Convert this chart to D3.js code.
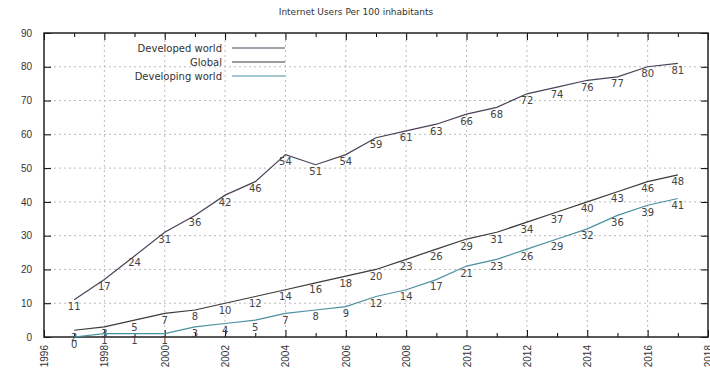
<!DOCTYPE html>
<html>
<head>
<meta charset="utf-8">
<script src="https://cdn.jsdelivr.net/npm/d3@7"></script>
<style>
  body { margin: 0; background: #fff; }
  svg { font-family: "DejaVu Sans", sans-serif; }
  .grid line { stroke: #bbb; stroke-dasharray: 2,3; }
</style>
</head>
<body>
<svg id="chart" width="710" height="372"></svg>
<script>
var width = 710;
var height = 372;

var years = [1997, 1998, 1999, 2000, 2001, 2002, 2003, 2004, 2005, 2006, 2007,
  2008, 2009, 2010, 2011, 2012, 2013, 2014, 2015, 2016, 2017];

var developed = [11, 17, 24, 31, 36, 42, 46, 54, 51, 54, 59,
  61, 63, 66, 68, 72, 74, 76, 77, 80, 81];
var global = [2, 3, 5, 7, 8, 10, 12, 14, 16, 18, 20,
  23, 26, 29, 31, 34, 37, 40, 43, 46, 48];
var developing = [0, 1, 1, 1, 3, 4, 5, 7, 8, 9, 12,
  14, 17, 21, 23, 26, 29, 32, 36, 39, 41];

var seriesNames = ["Developed world", "Global", "Developing world"];
var seriesColors = ["#4b4258", "#3b3b3b", "#4a90a0"];

var xTicks = [1996, 1998, 2000, 2002, 2004, 2006, 2008, 2010, 2012, 2014, 2016, 2018];
var yTicks = [0, 10, 20, 30, 40, 50, 60, 70, 80, 90];

var margin = {left: 44, right: 2, top: 33, bottom: 35};

var xScale = d3.scaleLinear()
  .domain([1996, 2018])
  .range([margin.left, width - margin.right]);

var yScale = d3.scaleLinear()
  .domain([0, 90])
  .range([height - margin.bottom, margin.top]);

var svg = d3.select("#chart");

// title
svg.append("text")
  .attr("x", 356)
  .attr("y", 15)
  .attr("text-anchor", "middle")
  .attr("font-size", 9)
  .attr("fill", "#333")
  .text("Internet Users Per 100 inhabitants");

// grid
var grid = svg.append("g").attr("class", "grid");
grid.selectAll(".gy")
  .data(yTicks.slice(1, -1))
  .enter().append("line")
  .attr("x1", xScale(1996)).attr("x2", xScale(2018))
  .attr("y1", function(d) { return yScale(d); })
  .attr("y2", function(d) { return yScale(d); });
grid.selectAll(".gx")
  .data(xTicks.slice(1, -1))
  .enter().append("line")
  .attr("x1", function(d) { return xScale(d); })
  .attr("x2", function(d) { return xScale(d); })
  .attr("y1", yScale(0)).attr("y2", yScale(90));

// axes
var minorYears = d3.range(1997, 2018, 2);

svg.append("g")
  .attr("transform", "translate(0," + yScale(0) + ")")
  .call(d3.axisBottom(xScale).tickValues(xTicks).tickSize(-7).tickFormat(d3.format("d")))
  .call(function(g) {
    g.select(".domain").remove();
    g.selectAll("text")
      .attr("transform", "rotate(-90)")
      .attr("text-anchor", "end")
      .attr("x", -8).attr("y", 0).attr("dy", "0.35em")
      .attr("font-size", 10).attr("fill", "#333");
  });

svg.append("g")
  .attr("transform", "translate(0," + yScale(0) + ")")
  .call(d3.axisBottom(xScale).tickValues(minorYears).tickSize(-4).tickFormat(""))
  .call(function(g) { g.select(".domain").remove(); });

svg.append("g")
  .attr("transform", "translate(0," + yScale(90) + ")")
  .call(d3.axisTop(xScale).tickValues(xTicks).tickSize(-7).tickFormat(""))
  .call(function(g) { g.select(".domain").remove(); });

svg.append("g")
  .attr("transform", "translate(0," + yScale(90) + ")")
  .call(d3.axisTop(xScale).tickValues(minorYears).tickSize(-4).tickFormat(""))
  .call(function(g) { g.select(".domain").remove(); });

svg.append("g")
  .attr("transform", "translate(" + xScale(1996) + ",0)")
  .call(d3.axisLeft(yScale).tickValues(yTicks).tickSize(-7).tickPadding(12))
  .call(function(g) {
    g.select(".domain").remove();
    g.selectAll("text").attr("font-size", 10).attr("fill", "#333");
  });

svg.append("g")
  .attr("transform", "translate(" + xScale(2018) + ",0)")
  .call(d3.axisRight(yScale).tickValues(yTicks).tickSize(-7).tickFormat(""))
  .call(function(g) { g.select(".domain").remove(); });

// frame
svg.append("rect")
  .attr("x", xScale(1996)).attr("y", yScale(90))
  .attr("width", xScale(2018) - xScale(1996))
  .attr("height", yScale(0) - yScale(90))
  .attr("fill", "none")
  .attr("stroke", "#222")
  .attr("stroke-width", 1.5);

// lines
var allSeries = [developed, global, developing];

var line = d3.line()
  .x(function(d, i) { return xScale(years[i]); })
  .y(function(d) { return yScale(d); });

allSeries.forEach(function(values, k) {
  svg.append("path")
    .datum(values)
    .attr("fill", "none")
    .attr("stroke", seriesColors[k])
    .attr("stroke-width", 1.2)
    .attr("d", line);

  svg.append("g").selectAll("text")
    .data(values)
    .enter().append("text")
    .attr("x", function(d, i) { return xScale(years[i]); })
    .attr("y", function(d) { return yScale(d) + 7; })
    .attr("dy", "0.35em")
    .attr("text-anchor", "middle")
    .attr("font-size", 10)
    .attr("fill", "#444")
    .text(function(d) { return d; });
});

// legend
var legend = svg.append("g");
seriesNames.forEach(function(name, k) {
  var ly = 48 + k * 14;
  legend.append("text")
    .attr("x", 222).attr("y", ly)
    .attr("dy", "0.35em")
    .attr("text-anchor", "end")
    .attr("font-size", 10)
    .attr("fill", "#333")
    .text(name);
  legend.append("line")
    .attr("x1", 232).attr("x2", 285)
    .attr("y1", ly).attr("y2", ly)
    .attr("stroke", seriesColors[k])
    .attr("stroke-width", 1.2);
});
</script>
</body>
</html>
